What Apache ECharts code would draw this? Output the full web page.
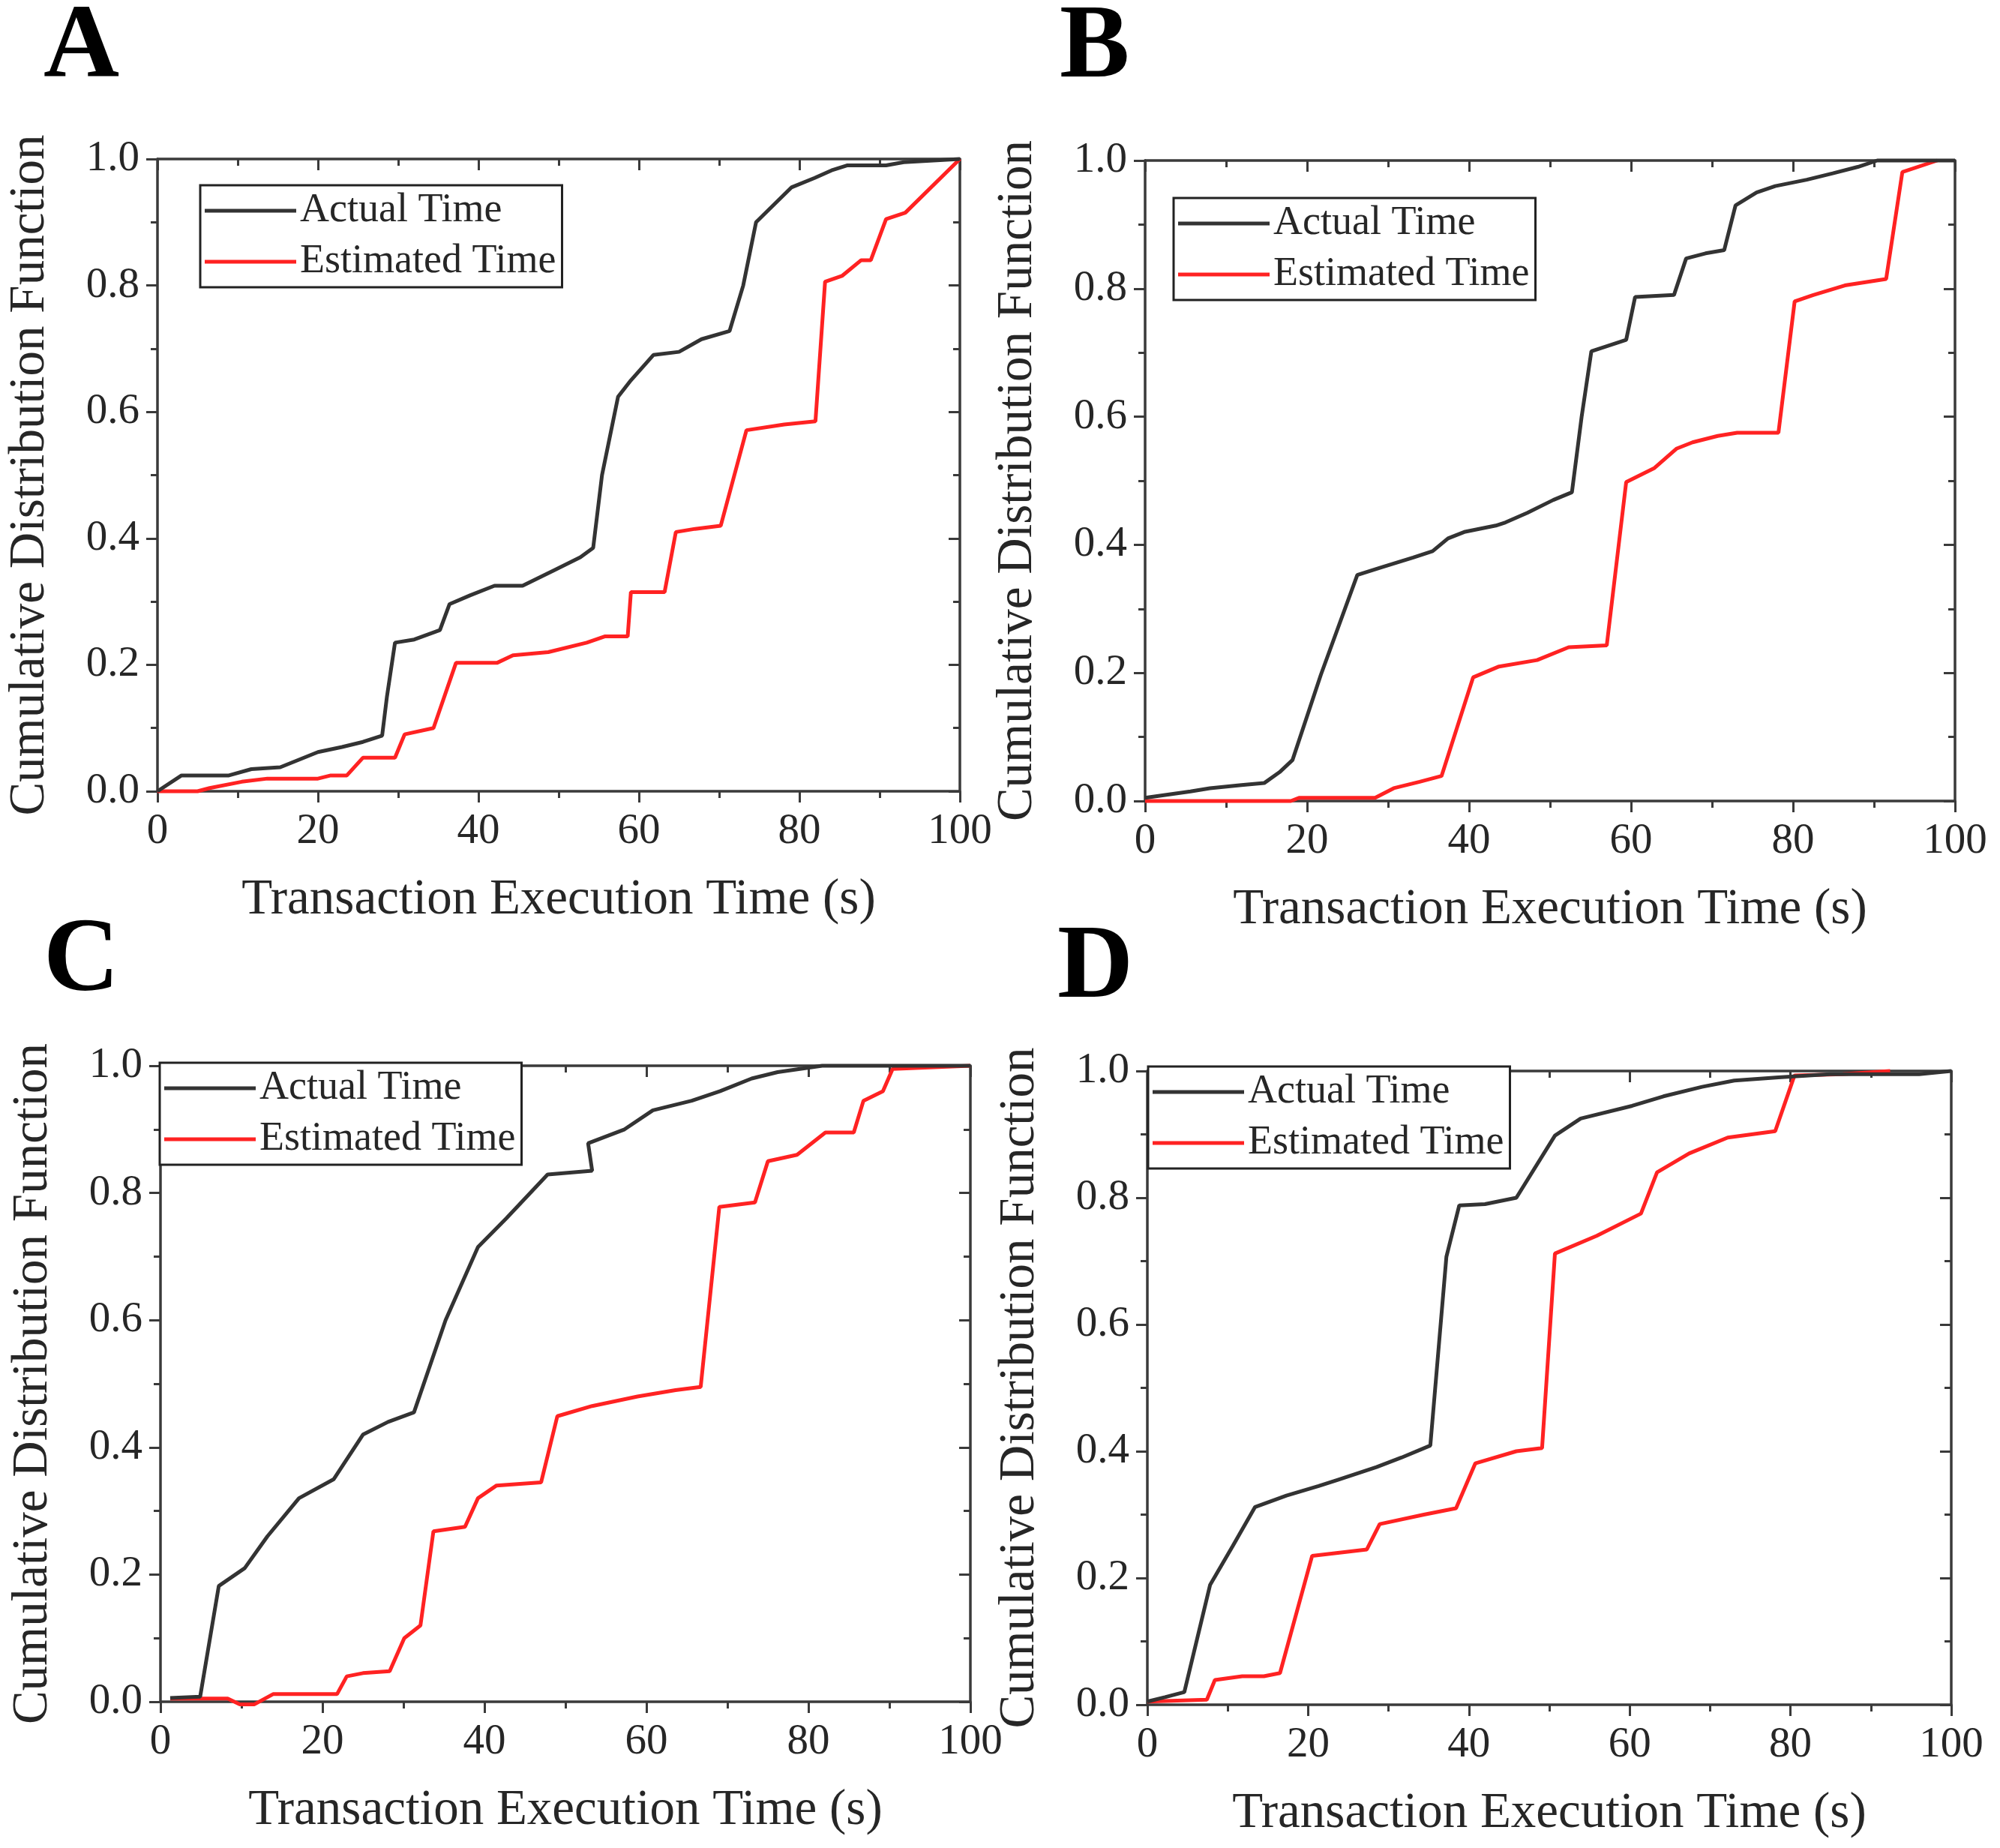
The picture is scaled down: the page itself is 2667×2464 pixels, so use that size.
<!DOCTYPE html>
<html>
<head>
<meta charset="utf-8">
<script src="https://cdn.jsdelivr.net/npm/echarts@6/dist/echarts.min.js"></script>
<style>
html,body{margin:0;padding:0;background:#fff;}
#chart{width:2667px;height:2464px;}
</style>
</head>
<body>
<div id="chart"></div>
<script>
// ---- data ----
const panelLetters = ['A', 'B', 'C', 'D'];
const seriesNames = ['Actual Time', 'Estimated Time'];
const xAxisTitle = 'Transaction Execution Time (s)';
const yAxisTitle = 'Cumulative Distribution Function';

const actualA = [[0,0],[3,0.025],[8.9,0.025],[11.7,0.035],[15.3,0.038],[20,0.062],[23,0.07],[25.6,0.078],[28,0.088],[28.6,0.15],[29.6,0.235],[32,0.24],[35.2,0.255],[36.4,0.296],[39,0.31],[42,0.325],[45.5,0.325],[49.5,0.35],[52.7,0.37],[54.3,0.385],[55.4,0.5],[57.4,0.624],[59,0.65],[61.8,0.69],[65,0.695],[67.8,0.715],[71.3,0.728],[73,0.8],[74.6,0.9],[77,0.93],[79,0.955],[81.9,0.97],[84,0.982],[86,0.99],[90.8,0.99],[93,0.995],[100,1.0]];
const estimatedA = [[0,0],[5,0],[6.5,0.005],[10.5,0.015],[13.7,0.02],[20,0.02],[21.6,0.025],[23.6,0.025],[25.6,0.053],[29.6,0.053],[30.8,0.09],[34.4,0.1],[37.2,0.203],[42.3,0.203],[44.3,0.215],[48.7,0.22],[53.5,0.235],[55.8,0.245],[58.6,0.245],[59,0.315],[63.2,0.315],[64.6,0.41],[67,0.415],[70.2,0.42],[73.4,0.571],[78.1,0.58],[82,0.585],[83.2,0.806],[85.3,0.815],[87.7,0.84],[88.9,0.84],[90.8,0.905],[93.2,0.915],[100,1.0]];

const actualB = [[0,0.005],[5.6,0.015],[8,0.02],[11.9,0.025],[14.7,0.028],[16.6,0.045],[18.2,0.064],[21.7,0.197],[26.2,0.353],[29.2,0.365],[33.1,0.38],[35.5,0.39],[37.4,0.41],[39.4,0.42],[43.3,0.43],[44.5,0.435],[47.2,0.45],[50.4,0.47],[52.7,0.482],[53.9,0.6],[55.1,0.702],[59.4,0.72],[60.5,0.787],[65.3,0.79],[66.8,0.847],[69.2,0.855],[71.5,0.86],[72.9,0.93],[75.5,0.95],[77.8,0.96],[81.7,0.97],[84.9,0.98],[88,0.99],[90.4,1.0],[100,1.0]];
const estimatedB = [[0,0],[18,0],[19,0.005],[28.4,0.005],[30.7,0.02],[33.9,0.03],[36.6,0.039],[40.5,0.193],[43.7,0.21],[48.4,0.22],[52.3,0.24],[57,0.243],[59.4,0.498],[62.9,0.52],[65.6,0.55],[67.6,0.56],[70.7,0.57],[73.1,0.575],[78.2,0.575],[80.2,0.78],[82.5,0.79],[86.4,0.805],[91.5,0.815],[93.5,0.982],[97.8,1.0]];

const actualC = [[1.2,0.006],[4.9,0.008],[7.2,0.182],[10.4,0.21],[13.2,0.26],[17.1,0.32],[21.4,0.35],[25,0.42],[28.1,0.44],[31.3,0.455],[35.2,0.6],[39.2,0.715],[42.7,0.76],[47.8,0.829],[53.3,0.835],[52.8,0.878],[57.3,0.9],[60.8,0.93],[65.6,0.945],[69.1,0.96],[73,0.98],[76.2,0.99],[81.7,1.0],[100,1.0]];
const estimatedC = [[1.2,0.005],[8.3,0.005],[9.8,-0.004],[11.6,-0.004],[13.9,0.012],[21.8,0.012],[23,0.04],[25,0.045],[28.3,0.048],[30.1,0.1],[32.1,0.12],[33.7,0.268],[37.6,0.275],[39.2,0.32],[41.5,0.34],[47,0.345],[49,0.449],[53.3,0.465],[58.9,0.48],[63.6,0.49],[66.7,0.495],[69,0.778],[73.4,0.785],[75,0.85],[78.6,0.86],[82.1,0.895],[85.6,0.895],[86.8,0.945],[89.2,0.96],[90.4,0.995],[100,1.0]];

const actualD = [[0,0.005],[2.2,0.012],[4.6,0.02],[7.8,0.189],[10.6,0.25],[13.4,0.312],[17.3,0.33],[21.3,0.345],[23.7,0.355],[28.5,0.375],[31.6,0.39],[35.2,0.409],[37.2,0.707],[38.8,0.788],[42,0.79],[45.9,0.8],[50.7,0.898],[53.9,0.925],[60.3,0.945],[64.2,0.96],[69,0.975],[73,0.985],[78.5,0.99],[84.9,0.995],[96,0.995],[100,1.0]];
const estimatedD = [[0,0.005],[7.4,0.008],[8.4,0.039],[11.8,0.045],[14.5,0.045],[16.5,0.05],[20.5,0.235],[27.3,0.245],[28.9,0.285],[34.4,0.3],[38.4,0.31],[40.8,0.381],[45.9,0.4],[49.1,0.405],[50.7,0.712],[55.9,0.74],[61.4,0.775],[63.4,0.84],[67.4,0.87],[72.2,0.895],[78.1,0.905],[80.5,0.993],[86.5,0.995],[92.4,1.0]];

const panelData = [
  [actualA, estimatedA],
  [actualB, estimatedB],
  [actualC, estimatedC],
  [actualD, estimatedD]
];

// ---- layout / style (kept apart from the data) ----
const layout = [
  { grid: {left: 210, top: 212, width: 1070, height: 843}, letter: {left: 58, top: -4}, legend: {left: 267, top: 247} },
  { grid: {left: 1527, top: 214, width: 1080, height: 854}, letter: {left: 1413, top: -4}, legend: {left: 1565, top: 264} },
  { grid: {left: 214, top: 1421, width: 1080, height: 848}, letter: {left: 58, top: 1214}, legend: {left: 213, top: 1417} },
  { grid: {left: 1530, top: 1428, width: 1072, height: 845}, letter: {left: 1410, top: 1223}, legend: {left: 1531, top: 1422} }
];
const FONT = 'Liberation Serif';
const TXT = '#262626';
const AX = '#3a3a3a';
const colors = ['#333333', '#ff2222'];

const chart = echarts.init(document.getElementById('chart'), null, {renderer: 'canvas'});

const grids = [], xAxes = [], yAxes = [], series = [], legends = [], titles = [];
layout.forEach((L, i) => {
  grids.push(Object.assign({containLabel: false}, L.grid));
  const axisLineCommon = {show: true, onZero: false, lineStyle: {color: AX, width: 3.5}};
  const tickStyle = {color: AX, width: 3};
  // bottom x
  xAxes.push({
    type: 'value', gridIndex: i, position: 'bottom', min: 0, max: 100, interval: 20,
    axisLine: axisLineCommon,
    axisTick: {show: true, inside: false, length: 15, lineStyle: tickStyle},
    minorTick: {show: true, splitNumber: 2, length: 9, lineStyle: tickStyle},
    splitLine: {show: false},
    axisLabel: {show: true, margin: 26, fontFamily: FONT, fontSize: 57, color: TXT},
    name: xAxisTitle, nameLocation: 'middle', nameGap: 112,
    nameTextStyle: {fontFamily: FONT, fontSize: 67, color: TXT}
  });
  // top x (mirror)
  xAxes.push({
    type: 'value', gridIndex: i, position: 'top', min: 0, max: 100, interval: 20,
    axisLine: axisLineCommon,
    axisTick: {show: true, inside: true, length: 15, lineStyle: tickStyle},
    minorTick: {show: true, splitNumber: 2, length: 9, lineStyle: tickStyle},
    splitLine: {show: false}, axisLabel: {show: false}
  });
  // left y
  yAxes.push({
    type: 'value', gridIndex: i, position: 'left', min: 0, max: 1, interval: 0.2,
    axisLine: axisLineCommon,
    axisTick: {show: true, inside: false, length: 15, lineStyle: tickStyle},
    minorTick: {show: true, splitNumber: 2, length: 9, lineStyle: tickStyle},
    splitLine: {show: false},
    axisLabel: {show: true, margin: 24, fontFamily: FONT, fontSize: 57, color: TXT,
      formatter: v => v.toFixed(1)},
    name: yAxisTitle, nameLocation: 'middle', nameGap: 136, nameRotate: 90,
    nameTextStyle: {fontFamily: FONT, fontSize: 67, color: TXT}
  });
  // right y (mirror)
  yAxes.push({
    type: 'value', gridIndex: i, position: 'right', min: 0, max: 1, interval: 0.2,
    axisLine: axisLineCommon,
    axisTick: {show: true, inside: true, length: 15, lineStyle: tickStyle},
    minorTick: {show: true, splitNumber: 2, length: 9, lineStyle: tickStyle},
    splitLine: {show: false}, axisLabel: {show: false}
  });
  panelData[i].forEach((d, k) => {
    series.push({
      type: 'line', name: seriesNames[k], data: d,
      xAxisIndex: 2 * i, yAxisIndex: 2 * i,
      symbol: 'none', showSymbol: false, smooth: false, clip: false,
      lineStyle: {color: colors[k], width: 5}, itemStyle: {color: colors[k]},
      z: 3 + (1 - k)
    });
  });
  legends.push({
    data: seriesNames.map(n => ({name: n, icon: 'rect'})),
    orient: 'vertical', left: L.legend.left, top: L.legend.top,
    backgroundColor: '#fff', borderColor: '#222', borderWidth: 3,
    padding: [7, 8, 7, 6], itemGap: 14, itemWidth: 122, itemHeight: 5,
    selectedMode: false,
    textStyle: {fontFamily: FONT, fontSize: 54, color: TXT, lineHeight: 54}
  });
  titles.push({
    text: panelLetters[i], left: L.letter.left, top: L.letter.top, padding: 0,
    textStyle: {fontFamily: FONT, fontSize: 140, fontWeight: 'bold', color: '#000'}
  });
});

chart.setOption({
  animation: false,
  backgroundColor: '#fff',
  title: titles,
  grid: grids,
  xAxis: xAxes,
  yAxis: yAxes,
  legend: legends,
  series: series
});
</script>
</body>
</html>
